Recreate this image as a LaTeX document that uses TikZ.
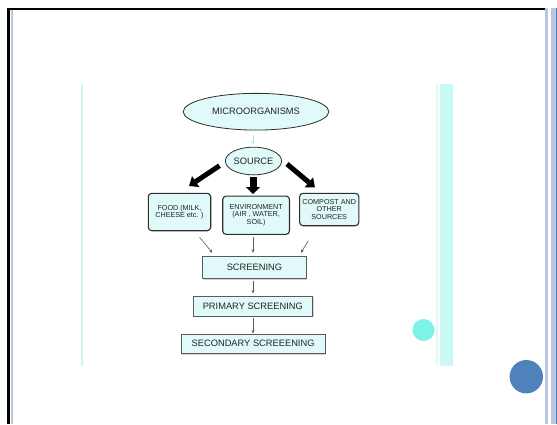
\documentclass[tikz,border=0pt]{standalone}
\usepackage{fontspec}
\setmainfont{Liberation Sans}
\usetikzlibrary{arrows.meta,shapes.geometric,shadows}

\definecolor{boxfill}{HTML}{E0FAFA}
\definecolor{boxline}{HTML}{2E2E2E}
\definecolor{stepline}{HTML}{5A5A5A}
\definecolor{inktext}{HTML}{222222}
\definecolor{framestripe}{HTML}{B8C7DF}
\definecolor{frameblue}{HTML}{4F81BD}
\definecolor{paneline}{HTML}{CFF5F5}
\definecolor{paneband}{HTML}{C6FAF2}
\definecolor{dotaqua}{HTML}{7DF3E6}
\definecolor{linkcyan}{HTML}{A8E4EE}

\tikzset{
  bigtext/.style={font=\fontsize{9.3bp}{11bp}\selectfont, text=inktext},
  smalltext/.style={font=\fontsize{7.2bp}{7.4bp}\selectfont, text=inktext, align=center},
  oval/.style={ellipse, draw=boxline, line width=0.8bp, fill=boxfill, inner sep=0pt, bigtext},
  sourcebox/.style={rounded corners=3.5bp, draw=boxline, line width=1.1bp, fill=boxfill, inner sep=0pt, smalltext},
  stagebox/.style={draw=stepline, line width=0.8bp, fill=boxfill, inner sep=0pt, bigtext,
    drop shadow={shadow xshift=1bp, shadow yshift=-1.2bp, opacity=0.35}},
  fatarrow/.style={line width=5bp, -{Triangle[width=12.5bp,length=8bp]}},
  thinarrow/.style={draw=stepline, line width=0.6bp, -{Stealth[width=3bp,length=3.5bp]}},
}

\begin{document}
\begin{tikzpicture}[x=1bp, y=-1bp]
  \useasboundingbox (0,0) rectangle (557,424);
  \fill[white] (0,0) rectangle (557,424);

  % slide frame
  \fill[black] (7,8) rectangle (545,10);
  \fill[black] (7,8) rectangle (9.5,424);
  \fill[framestripe] (10.5,10) rectangle (13,424);
  \fill[framestripe] (545,8) rectangle (548,424);
  \fill[framestripe] (551,8) rectangle (556,424);
  \fill[frameblue] (556,8) rectangle (557,424);

  % picture panel edges
  \fill[paneline] (81,84) rectangle (82.5,366);
  \fill[paneband!60] (436,84) rectangle (438,366);
  \fill[paneband] (439.5,84) rectangle (441.7,366);
  \fill[paneband!70] (441.7,84) rectangle (443,366);
  \fill[paneband] (443,84) rectangle (453,366);

  % decorative dots
  \fill[dotaqua] (423.5,330) circle (11);
  \fill[frameblue] (526.3,376.7) circle (16.7);

  % flow chart
  \node[oval, minimum width=145.6bp, minimum height=36.7bp] (micro) at (256,111.7) {MICROORGANISMS};
  \node[oval, minimum width=55.7bp, minimum height=27.7bp] (src) at (253.5,161) {SOURCE};

  \node[sourcebox, minimum width=62.4bp, minimum height=37.4bp] (food) at (179.5,212)
    {FOOD (MILK,\\CHEESE etc. )};
  \node[sourcebox, minimum width=66.8bp, minimum height=38.3bp] (env) at (256.1,215.2)
    {ENVIRONMENT\\(AIR , WATER,\\SOIL)};
  \node[sourcebox, minimum width=59.3bp, minimum height=32.4bp] (comp) at (329.2,209.5)
    {COMPOST AND\\OTHER\\SOURCES};

  \node[stagebox, minimum width=103.7bp, minimum height=22.3bp] (scr) at (254.4,267.2) {SCREENING};
  \node[stagebox, minimum width=119.7bp, minimum height=20bp] (prim) at (252.8,306) {PRIMARY SCREENING};
  \node[stagebox, minimum width=143.8bp, minimum height=19.3bp] (sec) at (253.1,343.7) {SECONDARY SCREEENING};

  % connector ends
  \coordinate (m0) at (253,135);   \coordinate (m1) at (253,144);
  \coordinate (l0) at (219.5,165.7); \coordinate (l1) at (189,186);
  \coordinate (c0) at (253,177);   \coordinate (c1) at (253,194);
  \coordinate (r0) at (287,164);   \coordinate (r1) at (315,187.5);
  \coordinate (fa) at (199.6,237.3); \coordinate (fb) at (212.4,252.8);
  \coordinate (ea) at (253,237.3);   \coordinate (eb) at (253,252.8);
  \coordinate (ca) at (308.3,240.7); \coordinate (cb) at (300.9,252.8);
  \coordinate (sa) at (253,281);     \coordinate (sb) at (253,293.5);
  \coordinate (pa) at (253,318);     \coordinate (pb) at (253,333.5);

  \draw[draw=linkcyan, line width=0.6bp, -{Stealth[width=3bp,length=3bp]}] (m0) -- (m1);
  \draw[fatarrow] (l0) -- (l1);
  \draw[line width=7bp, -{Triangle[width=14bp,length=7bp]}] (c0) -- (c1);
  \draw[fatarrow] (r0) -- (r1);
  \draw[thinarrow] (fa) -- (fb);
  \draw[thinarrow] (ea) -- (eb);
  \draw[thinarrow] (ca) -- (cb);
  \draw[thinarrow] (sa) -- (sb);
  \draw[thinarrow] (pa) -- (pb);
\end{tikzpicture}
\end{document}
